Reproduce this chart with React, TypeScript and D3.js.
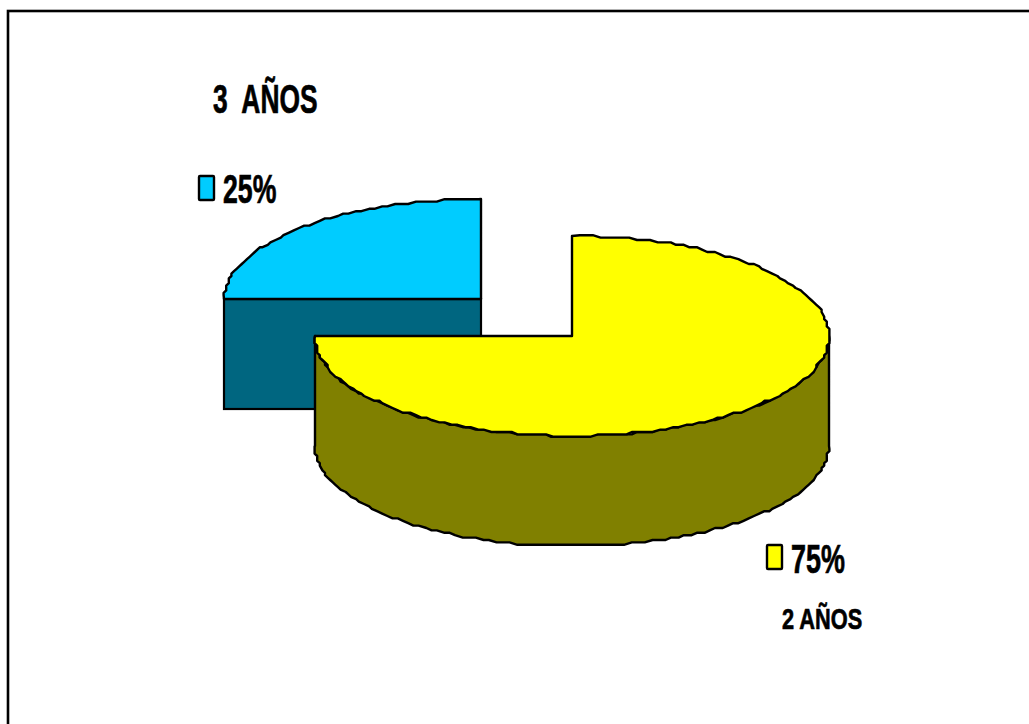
import React from "react";
import * as d3 from "d3";

const categories = ["2 AÑOS", "3  AÑOS"];
const shares = [75, 25];
const shareLabels = ["75%", "25%"];
const topColors = ["#ffff00", "#00ccff"];
const sideColors = ["#808000", "#006680"];

const W = 1029;
const H = 724;
const RX = 257;
const RY = 100;
const DEPTH = 110;
// Pie centres: the small slice is exploded up and to the left.
const centres = [
  { x: 572, y: 336 },
  { x: 481, y: 299 },
];

const pie = d3
  .pie<number>()
  .sort(null)
  .startAngle(0)
  .endAngle(2 * Math.PI);
const arcs = pie(shares);

const STEP = (1.6 * Math.PI) / 180;

// Sample a slice's rim on the tilted ellipse, snapped to a coarse device grid
// so the outline has the stepped edge of a low-resolution metafile.
function rim(cx: number, cy: number, a0: number, a1: number, dy = 0): [number, number][] {
  const angles = d3.range(a0, a1, STEP).concat(a1);
  return angles.map((a, i) => {
    const x = cx + RX * Math.sin(a);
    const y = cy + dy - RY * Math.cos(a);
    const edge = i === 0 || i === angles.length - 1;
    return edge ? [x, y] : [Math.round(x / 2.6) * 2.6, Math.round(y / 2.4) * 2.4];
  });
}

const line = d3.line();

function topPath(i: number) {
  const c = centres[i];
  const a = arcs[i];
  const pts = rim(c.x, c.y, a.startAngle, a.endAngle);
  return line([[c.x, c.y], ...pts])! + "Z";
}

export default function App() {
  const y0 = centres[0];
  // Visible wall of the large slice: from 3 o'clock round the front to 9 o'clock.
  const wallTop = rim(y0.x, y0.y, Math.PI / 2, (3 * Math.PI) / 2);
  const wallBottom = rim(y0.x, y0.y, Math.PI / 2, (3 * Math.PI) / 2, DEPTH).reverse();
  const wall = line([...wallTop, ...wallBottom])! + "Z";

  const b = centres[1];
  const blueLeft = b.x - RX;

  const label = (txt: string, x: number, y: number, sx: number, sy: number, size: number) => (
    <text
      transform={`translate(${x},${y}) scale(${sx},${sy})`}
      fontFamily="'Liberation Sans', Arial, sans-serif"
      fontWeight={700}
      fontSize={size}
      fill="#000"
      stroke="#000"
      strokeWidth={0.5}
      style={{ whiteSpace: "pre" }}
    >
      {txt}
    </text>
  );

  return (
    <svg
      width={W}
      height={H}
      viewBox={`0 0 ${W} ${H}`}
      style={{ position: "fixed", left: 0, top: 0, background: "#fff" }}
    >
      {/* frame: its right and bottom sides run off the page */}
      <rect x={8} y={11} width={W + 20} height={H + 20} fill="#fff" stroke="#000" strokeWidth={2.6} />

      {/* exploded 25% slice */}
      <rect
        x={blueLeft}
        y={b.y}
        width={RX}
        height={DEPTH}
        fill={sideColors[1]}
        stroke="#000"
        strokeWidth={2.2}
      />
      <path d={topPath(1)} fill={topColors[1]} stroke="#000" strokeWidth={2.4} strokeLinejoin="round" />

      {/* 75% slice */}
      <path d={wall} fill={sideColors[0]} stroke="#000" strokeWidth={2.4} strokeLinejoin="round" />
      <path d={topPath(0)} fill={topColors[0]} stroke="#000" strokeWidth={2.4} strokeLinejoin="round" />

      {/* series labels with their colour keys */}
      <rect x={199} y={176} width={15} height={24} rx={1} fill={topColors[1]} stroke="#000" strokeWidth={2.4} />
      {label(shareLabels[1], 223, 203, 0.92, 1.42, 29)}
      <rect x={767} y={545} width={15} height={24} rx={1} fill={topColors[0]} stroke="#000" strokeWidth={2.4} />
      {label(shareLabels[0], 791, 573, 0.93, 1.42, 29)}

      {label(categories[1], 213, 113, 0.91, 1.42, 29)}
      {label(categories[0], 782, 629, 0.99, 1.38, 22)}
    </svg>
  );
}
